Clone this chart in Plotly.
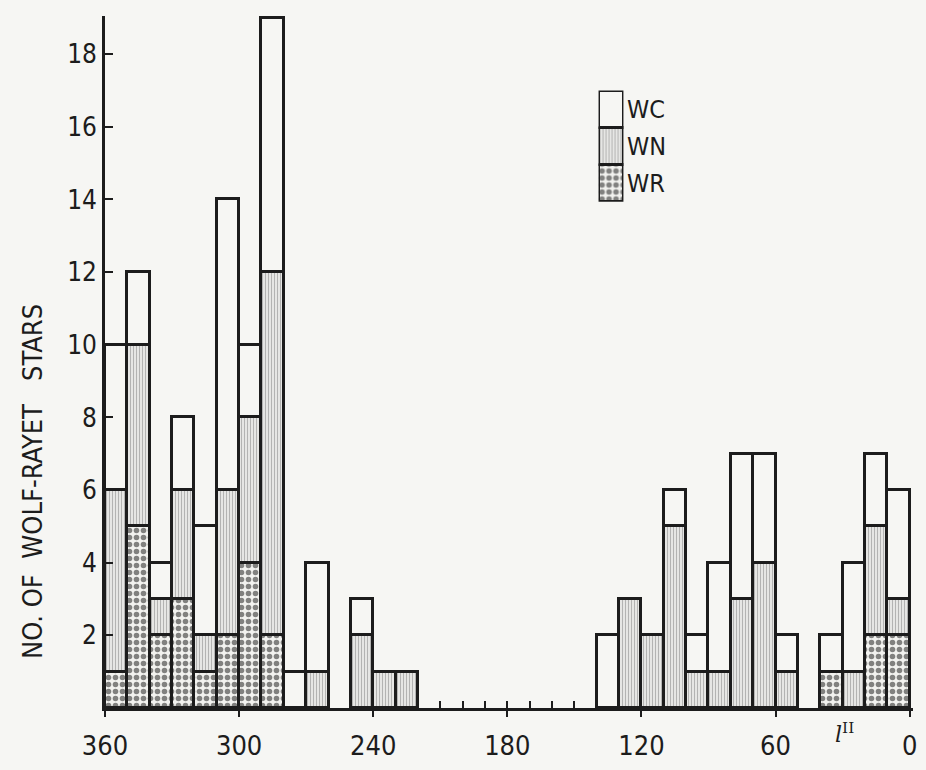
import plotly.graph_objects as go

# bin centres (galactic longitude, 10-degree bins)
lon = [355, 345, 335, 325, 315, 305, 295, 285, 275, 265, 255, 245, 235, 225,
       215, 205, 195, 185, 175, 165, 155, 145,
       135, 125, 115, 105, 95, 85, 75, 65, 55, 45, 35, 25, 15, 5]
wr = [1, 5, 2, 3, 1, 2, 4, 2, 0, 0, 0, 0, 0, 0,
      0, 0, 0, 0, 0, 0, 0, 0,
      0, 0, 0, 0, 0, 0, 0, 0, 0, 0, 1, 0, 2, 2]
wn = [5, 5, 1, 3, 1, 4, 4, 10, 0, 1, 0, 2, 1, 1,
      0, 0, 0, 0, 0, 0, 0, 0,
      0, 3, 2, 5, 1, 1, 3, 4, 1, 0, 0, 1, 3, 1]
wc = [4, 2, 1, 2, 3, 8, 2, 7, 1, 3, 0, 1, 0, 0,
      0, 0, 0, 0, 0, 0, 0, 0,
      2, 0, 0, 1, 1, 3, 4, 3, 1, 0, 1, 3, 2, 3]
x_ticks = [360, 300, 240, 180, 120, 60, 0]
y_ticks = [2, 4, 6, 8, 10, 12, 14, 16, 18]
legend_names = ["WR", "WN", "WC"]

BG = "#f6f6f3"
INK = "#1c1c1c"
FONT = "DejaVu Sans Condensed, Liberation Sans Narrow, sans-serif"

patterns = {
    "WR": dict(shape=".", fgcolor="#101010", bgcolor="#f2f2ef", size=7, solidity=0.5, fillmode="overlay"),
    "WN": dict(shape="|", fgcolor="#7a7a7a", bgcolor="#ececea", size=3, solidity=0.4, fillmode="overlay"),
    "WC": dict(shape="", fgcolor=BG, bgcolor=BG, size=8, solidity=0.1, fillmode="overlay"),
}

def nz(v):
    return [a if a else None for a in v]

fig = go.Figure()
for name, vals in zip(legend_names, [wr, wn, wc]):
    fig.add_trace(go.Bar(
        x=lon, y=nz(vals), width=10, name=name, showlegend=False,
        marker=dict(color=BG, pattern=patterns[name], line=dict(color=INK, width=2.6)),
    ))

# legend swatch drawn as a tiny stacked bar on an overlay axis
for name in legend_names:
    fig.add_trace(go.Bar(
        x=[0], y=[1], width=1, xaxis="x2", yaxis="y2", showlegend=False,
        marker=dict(color=BG, pattern=patterns[name], line=dict(color=INK, width=2.4)),
        hoverinfo="skip",
    ))

L, R, T, B = 105, 9, 16, 39
W, H = 926, 770
pw, ph = W - L - R, H - T - B

def px_x(px):
    return (px - L) / pw

def px_y(py):
    return (H - B - py) / ph

fig.update_layout(
    width=W, height=H,
    margin=dict(l=L, r=R, t=T, b=B),
    paper_bgcolor=BG, plot_bgcolor=BG,
    barmode="stack", bargap=0,
    font=dict(family=FONT, color=INK),
    xaxis=dict(
        range=[360, -1.5], tickvals=x_ticks, ticktext=[str(v) for v in x_ticks],
        ticks="outside", ticklen=6, tickwidth=2.2, tickcolor=INK, ticklabelstandoff=6,
        minor=dict(dtick=10, tick0=0, ticks="inside", ticklen=7, tickwidth=2, tickcolor=INK),
        showline=True, linecolor=INK, linewidth=2.8, showgrid=False, zeroline=False,
        tickfont=dict(size=27, family=FONT, color=INK),
    ),
    yaxis=dict(
        range=[0, 19.05], tickvals=y_ticks, ticks="inside", ticklen=8, tickwidth=2.2,
        tickcolor=INK, showline=True, linecolor=INK, linewidth=2.8, showgrid=False,
        zeroline=False, tickfont=dict(size=26, family=FONT, color=INK),
    ),
    xaxis2=dict(domain=[px_x(601), px_x(626)], range=[-0.5, 0.5], visible=False, anchor="y2"),
    yaxis2=dict(domain=[px_y(208), px_y(93)], range=[0, 3], visible=False, anchor="x2"),
)

for i, name in enumerate(legend_names):
    cy = 208 - (i + 0.5) * (208 - 93) / 3
    fig.add_annotation(text=name, x=px_x(628), y=px_y(cy), xref="paper", yref="paper",
                       xanchor="left", yanchor="middle", showarrow=False,
                       font=dict(size=25, family=FONT, color=INK))

fig.add_annotation(text="NO.\u00a0OF\u00a0\u00a0WOLF-RAYET\u00a0\u00a0\u00a0STARS",
                   x=px_x(32), y=px_y(497), xref="paper", yref="paper",
                   textangle=-90, showarrow=False, xanchor="center", yanchor="middle",
                   font=dict(size=27, family=FONT, color=INK))

fig.add_annotation(text="<i>l</i><sup>II</sup>", x=29, y=px_y(740), xref="x", yref="paper",
                   showarrow=False, xanchor="center", yanchor="top",
                   font=dict(size=22, family="DejaVu Serif, serif", color=INK))

fig.write_html("out.html")
